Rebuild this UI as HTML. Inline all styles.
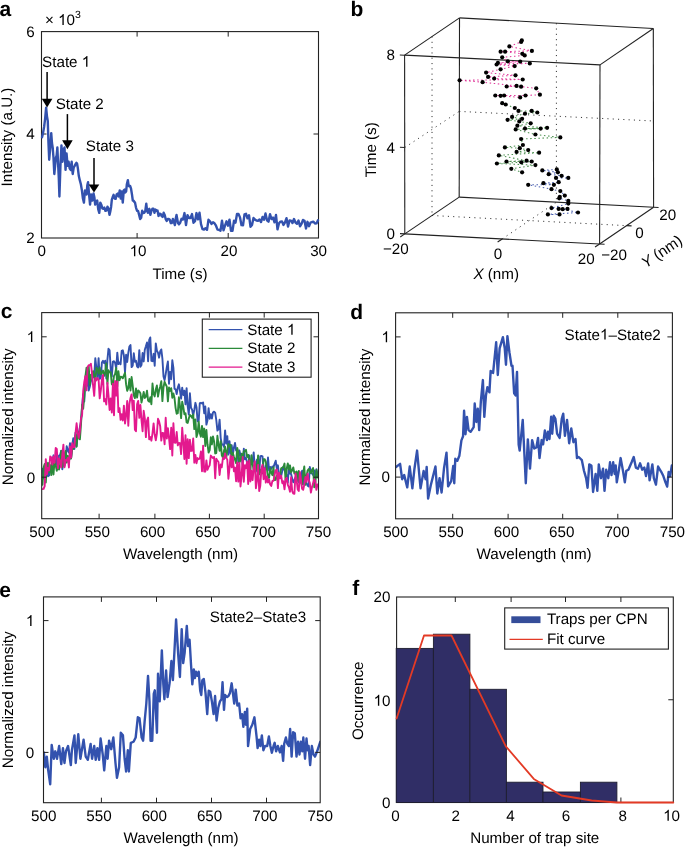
<!DOCTYPE html>
<html><head><meta charset="utf-8"><style>
html,body{margin:0;padding:0;background:#fff;}
svg{display:block;font-family:"Liberation Sans",sans-serif;text-rendering:geometricPrecision;will-change:transform;}
</style></head><body>
<svg width="685" height="847" viewBox="0 0 685 847">
<rect width="685" height="847" fill="#fff"/>
<text x="-0.60" y="16.00" font-size="21" text-anchor="start" font-weight="bold" >a</text>
<rect x="41.50" y="31.60" width="277.00" height="206.40" fill="none" stroke="#222" stroke-width="1.1"/>
<line x1="137.10" y1="238.00" x2="137.10" y2="233.00" stroke="#222" stroke-width="1" />
<line x1="137.10" y1="31.60" x2="137.10" y2="36.60" stroke="#222" stroke-width="1" />
<line x1="228.20" y1="238.00" x2="228.20" y2="233.00" stroke="#222" stroke-width="1" />
<line x1="228.20" y1="31.60" x2="228.20" y2="36.60" stroke="#222" stroke-width="1" />
<line x1="41.50" y1="134.00" x2="46.50" y2="134.00" stroke="#222" stroke-width="1" />
<line x1="318.50" y1="134.00" x2="313.50" y2="134.00" stroke="#222" stroke-width="1" />
<text x="41.80" y="256.20" font-size="15.2" text-anchor="middle" font-weight="normal" >0</text>
<text x="138.10" y="256.20" font-size="15.2" text-anchor="middle" font-weight="normal" >10</text>
<text x="229.00" y="256.20" font-size="15.2" text-anchor="middle" font-weight="normal" >20</text>
<text x="318.60" y="256.20" font-size="15.2" text-anchor="middle" font-weight="normal" >30</text>
<text x="34.60" y="36.55" font-size="15.2" text-anchor="end" font-weight="normal" >6</text>
<text x="34.60" y="139.05" font-size="15.2" text-anchor="end" font-weight="normal" >4</text>
<text x="34.60" y="242.55" font-size="15.2" text-anchor="end" font-weight="normal" >2</text>
<text x="45.00" y="25.00" font-size="15.2" text-anchor="start" font-weight="normal" >× 10<tspan dy="-7" font-size="10.5">3</tspan></text>
<text x="180.00" y="279.00" font-size="15.2" text-anchor="middle" font-weight="normal" >Time (s)</text>
<text x="0.00" y="0.00" font-size="15.2" text-anchor="middle" font-weight="normal" transform="translate(12.4,137) rotate(-90)">Intensity (a.U.)</text>
<polyline points="42.04,137.22 43.07,132.90 44.09,127.01 45.11,118.85 46.13,107.59 46.95,116.12 47.77,120.87 48.48,143.12 49.20,159.71 50.22,147.96 51.24,133.14 51.96,142.99 52.67,147.44 53.49,157.71 54.31,174.01 55.12,165.62 55.94,157.66 56.66,155.39 57.37,147.44 58.09,163.72 58.80,178.10 59.42,196.49 60.44,165.84 61.46,145.40 62.48,161.75 63.50,149.49 64.52,147.44 65.55,169.92 66.57,153.57 67.59,165.84 68.61,161.75 69.63,168.40 70.66,169.92 71.68,161.75 72.70,174.01 73.72,167.45 74.74,165.84 75.56,164.11 76.38,162.77 77.09,163.70 77.81,167.88 78.83,176.06 79.85,180.42 80.87,184.23 81.90,190.36 82.92,198.54 83.94,202.62 84.96,190.36 85.78,192.88 86.60,194.45 87.31,185.20 88.03,182.19 89.05,194.45 90.07,204.67 91.09,194.45 92.32,200.58 93.55,193.43 94.36,197.23 95.18,204.67 96.20,201.21 97.22,200.58 98.25,209.38 99.27,212.84 100.29,202.62 101.31,204.67 102.33,208.41 103.36,208.76 104.38,207.60 105.40,210.80 106.42,210.66 107.44,206.71 108.47,208.49 109.49,214.89 110.30,211.55 111.12,206.71 111.84,199.72 112.55,197.51 113.57,194.84 114.60,198.54 115.62,198.87 116.64,194.45 117.66,193.61 118.68,196.49 119.71,190.36 120.73,198.54 121.75,191.38 122.77,202.62 123.79,190.36 124.61,189.56 125.43,192.41 126.14,191.41 126.86,184.23 127.88,180.14 128.60,185.59 129.31,186.27 130.13,185.95 130.95,188.32 131.97,194.45 132.79,200.47 133.60,200.58 134.32,201.85 135.03,202.62 136.06,207.85 137.08,210.80 138.10,210.95 139.12,214.89 140.14,218.97 141.16,217.71 142.19,210.80 143.21,213.04 144.23,212.84 145.25,211.23 146.27,203.65 147.09,210.76 147.91,212.84 148.62,209.51 149.34,208.76 150.36,214.89 151.38,210.93 152.41,208.76 153.43,208.66 154.45,212.84 155.47,209.55 156.49,210.80 157.51,210.57 158.54,215.91 159.56,213.62 160.58,213.86 161.60,216.06 162.62,216.93 163.65,212.73 164.67,214.89 165.69,219.09 166.71,221.02 167.73,218.96 168.76,218.97 169.78,219.80 170.80,223.06 171.82,223.06 172.84,218.97 173.86,221.92 174.89,225.11 175.70,218.82 176.52,214.89 177.24,218.85 177.95,223.06 178.97,224.37 180.00,223.06 181.50,218.83 183.00,219.55 184.50,213.09 186.00,225.05 187.50,215.11 189.00,217.94 190.50,218.02 192.00,214.11 193.50,222.72 195.00,221.20 196.50,213.07 198.00,219.39 199.50,212.67 201.00,224.20 202.50,229.09 204.00,229.62 205.50,228.19 207.00,229.82 208.50,219.78 210.00,221.24 211.50,223.88 213.00,222.28 214.50,223.31 216.00,225.72 217.50,229.57 219.00,229.88 220.50,230.64 222.00,220.73 223.50,230.36 225.00,225.63 226.50,221.35 228.00,225.72 229.50,219.62 231.00,230.75 232.50,230.90 234.00,220.71 235.50,222.63 237.00,213.93 238.50,213.94 240.00,217.37 241.50,225.17 243.00,225.38 244.50,214.32 246.00,213.78 247.50,218.30 249.00,215.27 250.50,226.76 252.00,224.90 253.50,217.93 255.00,219.64 256.50,220.55 258.00,220.84 259.50,219.48 261.00,222.04 262.50,217.01 264.00,219.65 265.50,213.54 267.00,220.36 268.50,221.72 270.00,214.12 271.50,219.00 273.00,217.63 274.50,222.26 276.00,215.01 277.50,229.36 279.00,223.28 280.50,221.64 282.00,221.55 283.50,224.95 285.00,222.33 286.50,218.12 288.00,226.62 289.50,220.47 291.00,220.66 292.50,223.02 294.00,219.02 295.50,222.51 297.00,223.76 298.50,220.53 300.00,226.30 301.50,223.91 303.00,219.95 304.50,220.79 306.00,228.56 307.50,221.84 309.00,226.20 310.50,222.64 312.00,222.00 313.50,221.75 315.00,223.50 316.50,223.41 318.00,220.37" fill="none" stroke="#3352ae" stroke-width="2.4" stroke-linejoin="round" stroke-linecap="round" />
<line x1="47.10" y1="72.10" x2="47.10" y2="99.70" stroke="#000" stroke-width="1.5" />
<polygon points="41.80,98.70 52.40,98.70 47.10,107.60" fill="#000"/>
<line x1="67.40" y1="114.10" x2="67.40" y2="141.30" stroke="#000" stroke-width="1.5" />
<polygon points="62.10,140.30 72.70,140.30 67.40,149.20" fill="#000"/>
<line x1="94.00" y1="158.00" x2="94.00" y2="185.60" stroke="#000" stroke-width="1.5" />
<polygon points="88.70,184.60 99.30,184.60 94.00,192.60" fill="#000"/>
<text x="42.10" y="66.80" font-size="15.2" text-anchor="start" font-weight="normal" >State 1</text>
<text x="55.70" y="108.80" font-size="15.2" text-anchor="start" font-weight="normal" >State 2</text>
<text x="85.80" y="151.00" font-size="15.2" text-anchor="start" font-weight="normal" >State 3</text>
<text x="350.44" y="16.00" font-size="21" text-anchor="start" font-weight="bold" >b</text>
<line x1="432.05" y1="36.50" x2="432.00" y2="215.50" stroke="#333" stroke-width="1.0" stroke-dasharray="1.1 4.2"/>
<line x1="404.80" y1="147.50" x2="459.20" y2="111.40" stroke="#333" stroke-width="1.0" stroke-dasharray="1.1 4.2"/>
<line x1="556.40" y1="23.20" x2="556.40" y2="202.20" stroke="#333" stroke-width="1.0" stroke-dasharray="1.1 4.2"/>
<line x1="459.20" y1="111.40" x2="653.40" y2="121.00" stroke="#333" stroke-width="1.0" stroke-dasharray="1.1 4.2"/>
<line x1="432.00" y1="215.50" x2="626.60" y2="225.65" stroke="#333" stroke-width="1.0" stroke-dasharray="1.1 4.2"/>
<line x1="502.20" y1="238.95" x2="556.40" y2="202.20" stroke="#333" stroke-width="1.0" stroke-dasharray="1.1 4.2"/>
<line x1="404.60" y1="55.10" x2="404.80" y2="233.90" stroke="#222" stroke-width="1.1" />
<line x1="404.60" y1="55.10" x2="600.00" y2="64.90" stroke="#222" stroke-width="1.1" />
<line x1="404.60" y1="55.10" x2="459.50" y2="17.90" stroke="#222" stroke-width="1.1" />
<line x1="459.50" y1="17.90" x2="653.30" y2="28.50" stroke="#222" stroke-width="1.1" />
<line x1="600.00" y1="64.90" x2="653.30" y2="28.50" stroke="#222" stroke-width="1.1" />
<line x1="600.00" y1="64.90" x2="599.60" y2="244.00" stroke="#222" stroke-width="1.1" />
<line x1="459.50" y1="17.90" x2="459.20" y2="197.10" stroke="#222" stroke-width="1.1" />
<line x1="653.30" y1="28.50" x2="653.60" y2="207.30" stroke="#222" stroke-width="1.1" />
<line x1="404.80" y1="233.90" x2="599.60" y2="244.00" stroke="#222" stroke-width="1.1" />
<line x1="404.80" y1="233.90" x2="459.20" y2="197.10" stroke="#222" stroke-width="1.1" />
<line x1="459.20" y1="197.10" x2="653.60" y2="207.30" stroke="#222" stroke-width="1.1" />
<line x1="599.60" y1="244.00" x2="653.60" y2="207.30" stroke="#222" stroke-width="1.1" />
<line x1="404.60" y1="55.20" x2="399.80" y2="54.95" stroke="#222" stroke-width="1.1" />
<line x1="404.70" y1="147.50" x2="399.90" y2="147.25" stroke="#222" stroke-width="1.1" />
<line x1="404.80" y1="233.90" x2="400.00" y2="233.65" stroke="#222" stroke-width="1.1" />
<line x1="404.80" y1="233.90" x2="400.24" y2="236.98" stroke="#222" stroke-width="1.1" />
<line x1="502.20" y1="238.95" x2="497.64" y2="242.03" stroke="#222" stroke-width="1.1" />
<line x1="599.60" y1="244.00" x2="595.03" y2="247.08" stroke="#222" stroke-width="1.1" />
<line x1="599.60" y1="244.00" x2="604.60" y2="244.25" stroke="#222" stroke-width="1.1" />
<line x1="626.60" y1="225.65" x2="631.60" y2="225.90" stroke="#222" stroke-width="1.1" />
<line x1="653.60" y1="207.30" x2="658.60" y2="207.55" stroke="#222" stroke-width="1.1" />
<text x="395.00" y="60.45" font-size="15.2" text-anchor="end" font-weight="normal" >8</text>
<text x="395.00" y="153.25" font-size="15.2" text-anchor="end" font-weight="normal" >4</text>
<text x="395.00" y="239.25" font-size="15.2" text-anchor="end" font-weight="normal" >0</text>
<text x="395.80" y="253.80" font-size="15.2" text-anchor="middle" font-weight="normal" >−20</text>
<text x="497.90" y="259.40" font-size="15.2" text-anchor="middle" font-weight="normal" >0</text>
<text x="586.20" y="264.30" font-size="15.2" text-anchor="middle" font-weight="normal" >20</text>
<text x="614.10" y="259.80" font-size="15.2" text-anchor="middle" font-weight="normal" >−20</text>
<text x="639.40" y="238.40" font-size="15.2" text-anchor="middle" font-weight="normal" >0</text>
<text x="667.80" y="220.00" font-size="15.2" text-anchor="middle" font-weight="normal" >20</text>
<text x="496.20" y="279.20" font-size="15.2" text-anchor="middle" font-weight="normal" ><tspan font-style="italic">X</tspan> (nm)</text>
<text x="0.00" y="0.00" font-size="15.2" text-anchor="middle" font-weight="normal" transform="translate(664.5,255.8) rotate(-34.2)"><tspan font-style="italic">Y</tspan> (nm)</text>
<text x="0.00" y="0.00" font-size="15.2" text-anchor="middle" font-weight="normal" transform="translate(376.4,149.8) rotate(-90)">Time (s)</text>
<polyline points="521.8,40.4 521.1,42.0 509.4,46.4 531.9,50.9 500.6,51.7 505.1,51.7 522.3,53.8 524.7,55.4 502.2,57.3 507.8,61.3 520.2,61.6 497.9,62.9 529.8,63.4 496.6,64.5 514.7,66.1 500.6,69.3 486.1,72.6 515.5,75.3 488.1,76.9 494.2,78.5 522.7,79.5 459.6,80.3 482.6,82.2 516.6,85.9 506.7,86.5 521.1,86.7 536.2,88.3 539.9,94.7 525.5,95.5 495.3,95.5 504.1,95.5 500.6,95.8 520.2,97.4" fill="none" stroke="#e0389a" stroke-width="1.05" stroke-dasharray="1.5 2.6"/>
<polyline points="502.2,103.2 505.7,104.5 514.8,108.0 518.5,110.9 531.7,110.9 537.3,112.5 525.0,113.7 512.1,116.9 522.1,118.8 507.6,119.8 519.3,121.4 530.7,123.3 517.4,125.7 547.1,127.8 525.0,128.6 540.7,128.6 515.7,129.4 535.4,134.5 560.3,137.4 521.1,139.0 522.9,145.0 504.9,147.4 519.8,148.2 528.2,150.1 516.6,151.9 539.1,152.7 498.8,155.4 526.6,160.7 506.5,161.5 531.7,161.5 521.4,162.3 496.9,163.5 535.4,165.1 511.3,168.8 522.1,172.3" fill="none" stroke="#4c9150" stroke-width="1.05" stroke-dasharray="1.5 2.6"/>
<polyline points="556.8,169.4 542.3,170.4 557.9,172.3 548.7,174.2 561.6,175.8 568.3,177.9 556.0,177.9 558.7,182.2 543.4,183.2 553.9,184.8 528.2,184.8 551.5,189.2 560.3,191.1 564.8,195.6 559.8,196.9 559.2,198.3 568.3,200.9 568.3,203.6 551.5,208.1 558.7,208.9 567.5,208.9 562.7,209.2 578.0,212.5 547.9,214.4 559.5,214.4" fill="none" stroke="#4a5fb0" stroke-width="1.05" stroke-dasharray="1.5 2.6"/>
<circle cx="521.8" cy="40.4" r="2.1" fill="#000"/>
<circle cx="521.1" cy="42.0" r="2.1" fill="#000"/>
<circle cx="509.4" cy="46.4" r="2.1" fill="#000"/>
<circle cx="500.6" cy="51.7" r="2.1" fill="#000"/>
<circle cx="505.1" cy="51.7" r="2.1" fill="#000"/>
<circle cx="531.9" cy="50.9" r="2.1" fill="#000"/>
<circle cx="522.3" cy="53.8" r="2.1" fill="#000"/>
<circle cx="524.7" cy="55.4" r="2.1" fill="#000"/>
<circle cx="502.2" cy="57.3" r="2.1" fill="#000"/>
<circle cx="497.9" cy="62.9" r="2.1" fill="#000"/>
<circle cx="496.6" cy="64.5" r="2.1" fill="#000"/>
<circle cx="507.8" cy="61.3" r="2.1" fill="#000"/>
<circle cx="520.2" cy="61.6" r="2.1" fill="#000"/>
<circle cx="529.8" cy="63.4" r="2.1" fill="#000"/>
<circle cx="514.7" cy="66.1" r="2.1" fill="#000"/>
<circle cx="500.6" cy="69.3" r="2.1" fill="#000"/>
<circle cx="486.1" cy="72.6" r="2.1" fill="#000"/>
<circle cx="488.1" cy="76.9" r="2.1" fill="#000"/>
<circle cx="494.2" cy="78.5" r="2.1" fill="#000"/>
<circle cx="482.6" cy="82.2" r="2.1" fill="#000"/>
<circle cx="459.6" cy="80.3" r="2.1" fill="#000"/>
<circle cx="515.5" cy="75.3" r="2.1" fill="#000"/>
<circle cx="522.7" cy="79.5" r="2.1" fill="#000"/>
<circle cx="506.7" cy="86.5" r="2.1" fill="#000"/>
<circle cx="516.6" cy="85.9" r="2.1" fill="#000"/>
<circle cx="521.1" cy="86.7" r="2.1" fill="#000"/>
<circle cx="536.2" cy="88.3" r="2.1" fill="#000"/>
<circle cx="539.9" cy="94.7" r="2.1" fill="#000"/>
<circle cx="525.5" cy="95.5" r="2.1" fill="#000"/>
<circle cx="520.2" cy="97.4" r="2.1" fill="#000"/>
<circle cx="495.3" cy="95.5" r="2.1" fill="#000"/>
<circle cx="500.6" cy="95.8" r="2.1" fill="#000"/>
<circle cx="504.1" cy="95.5" r="2.1" fill="#000"/>
<circle cx="502.2" cy="103.2" r="2.1" fill="#000"/>
<circle cx="505.7" cy="104.5" r="2.1" fill="#000"/>
<circle cx="514.8" cy="108.0" r="2.1" fill="#000"/>
<circle cx="518.5" cy="110.9" r="2.1" fill="#000"/>
<circle cx="525.0" cy="113.7" r="2.1" fill="#000"/>
<circle cx="531.7" cy="110.9" r="2.1" fill="#000"/>
<circle cx="537.3" cy="112.5" r="2.1" fill="#000"/>
<circle cx="512.1" cy="116.9" r="2.1" fill="#000"/>
<circle cx="507.6" cy="119.8" r="2.1" fill="#000"/>
<circle cx="522.1" cy="118.8" r="2.1" fill="#000"/>
<circle cx="519.3" cy="121.4" r="2.1" fill="#000"/>
<circle cx="530.7" cy="123.3" r="2.1" fill="#000"/>
<circle cx="517.4" cy="125.7" r="2.1" fill="#000"/>
<circle cx="525.0" cy="128.6" r="2.1" fill="#000"/>
<circle cx="515.7" cy="129.4" r="2.1" fill="#000"/>
<circle cx="540.7" cy="128.6" r="2.1" fill="#000"/>
<circle cx="547.1" cy="127.8" r="2.1" fill="#000"/>
<circle cx="535.4" cy="134.5" r="2.1" fill="#000"/>
<circle cx="560.3" cy="137.4" r="2.1" fill="#000"/>
<circle cx="521.1" cy="139.0" r="2.1" fill="#000"/>
<circle cx="522.9" cy="145.0" r="2.1" fill="#000"/>
<circle cx="504.9" cy="147.4" r="2.1" fill="#000"/>
<circle cx="519.8" cy="148.2" r="2.1" fill="#000"/>
<circle cx="528.2" cy="150.1" r="2.1" fill="#000"/>
<circle cx="516.6" cy="151.9" r="2.1" fill="#000"/>
<circle cx="539.1" cy="152.7" r="2.1" fill="#000"/>
<circle cx="498.8" cy="155.4" r="2.1" fill="#000"/>
<circle cx="506.5" cy="161.5" r="2.1" fill="#000"/>
<circle cx="496.9" cy="163.5" r="2.1" fill="#000"/>
<circle cx="521.4" cy="162.3" r="2.1" fill="#000"/>
<circle cx="526.6" cy="160.7" r="2.1" fill="#000"/>
<circle cx="531.7" cy="161.5" r="2.1" fill="#000"/>
<circle cx="535.4" cy="165.1" r="2.1" fill="#000"/>
<circle cx="511.3" cy="168.8" r="2.1" fill="#000"/>
<circle cx="522.1" cy="172.3" r="2.1" fill="#000"/>
<circle cx="542.3" cy="170.4" r="2.1" fill="#000"/>
<circle cx="548.7" cy="174.2" r="2.1" fill="#000"/>
<circle cx="556.8" cy="169.4" r="2.1" fill="#000"/>
<circle cx="557.9" cy="172.3" r="2.1" fill="#000"/>
<circle cx="561.6" cy="175.8" r="2.1" fill="#000"/>
<circle cx="568.3" cy="177.9" r="2.1" fill="#000"/>
<circle cx="556.0" cy="177.9" r="2.1" fill="#000"/>
<circle cx="558.7" cy="182.2" r="2.1" fill="#000"/>
<circle cx="543.4" cy="183.2" r="2.1" fill="#000"/>
<circle cx="553.9" cy="184.8" r="2.1" fill="#000"/>
<circle cx="528.2" cy="184.8" r="2.1" fill="#000"/>
<circle cx="551.5" cy="189.2" r="2.1" fill="#000"/>
<circle cx="560.3" cy="191.1" r="2.1" fill="#000"/>
<circle cx="564.8" cy="195.6" r="2.1" fill="#000"/>
<circle cx="559.8" cy="196.9" r="2.1" fill="#000"/>
<circle cx="559.2" cy="198.3" r="2.1" fill="#000"/>
<circle cx="568.3" cy="200.9" r="2.1" fill="#000"/>
<circle cx="568.3" cy="203.6" r="2.1" fill="#000"/>
<circle cx="551.5" cy="208.1" r="2.1" fill="#000"/>
<circle cx="558.7" cy="208.9" r="2.1" fill="#000"/>
<circle cx="562.7" cy="209.2" r="2.1" fill="#000"/>
<circle cx="567.5" cy="208.9" r="2.1" fill="#000"/>
<circle cx="547.9" cy="214.4" r="2.1" fill="#000"/>
<circle cx="559.5" cy="214.4" r="2.1" fill="#000"/>
<circle cx="578.0" cy="212.5" r="2.1" fill="#000"/>
<text x="0.66" y="318.00" font-size="21" text-anchor="start" font-weight="bold" >c</text>
<clipPath id="clc"><rect x="41.7" y="312.6" width="276.8" height="206.10000000000002"/></clipPath>
<g clip-path="url(#clc)">
<polyline points="42.50,468.83 43.60,478.30 44.70,476.18 45.80,472.04 46.90,465.75 48.00,476.25 49.10,475.53 50.20,468.60 51.30,467.42 52.40,461.01 53.50,455.33 54.60,461.66 55.70,464.92 56.80,453.57 57.90,467.43 59.00,455.65 60.10,455.10 61.20,450.75 62.30,469.30 63.40,463.57 64.50,465.75 65.60,459.46 66.70,446.25 67.80,450.58 68.90,452.38 70.00,443.17 71.10,458.32 72.20,444.92 73.30,438.17 74.40,448.95 75.50,432.62 76.60,446.21 77.70,434.24 78.80,433.74 79.90,427.08 81.00,421.36 82.10,406.24 83.20,394.08 84.30,401.48 85.40,378.64 86.50,386.06 87.60,370.87 88.70,390.46 89.80,386.75 90.90,381.11 92.00,379.88 93.10,373.60 94.20,377.24 95.30,358.20 96.40,367.99 97.50,377.69 98.60,358.08 99.70,378.92 100.80,377.34 101.90,362.60 103.00,360.87 104.10,363.05 105.20,360.68 106.30,378.55 107.40,359.91 108.50,348.71 109.60,350.31 110.70,368.65 111.80,376.66 112.90,361.59 114.00,361.28 115.10,362.88 116.20,368.65 117.30,352.69 118.40,364.13 119.50,362.39 120.60,364.20 121.70,350.77 122.80,350.29 123.90,355.46 125.00,372.51 126.10,354.77 127.20,361.96 128.30,352.91 129.40,346.48 130.50,345.02 131.60,367.13 132.70,365.70 133.80,353.31 134.90,361.80 136.00,360.72 137.10,366.55 138.20,367.48 139.30,350.09 140.40,366.70 141.50,365.01 142.60,353.03 143.70,361.50 144.80,349.73 145.90,346.27 147.00,342.42 148.10,361.28 149.20,339.87 150.30,337.44 151.40,360.84 152.50,361.22 153.60,353.82 154.70,365.75 155.80,343.37 156.90,350.64 158.00,352.70 159.10,357.69 160.20,351.32 161.30,349.38 162.40,358.54 163.50,376.47 164.60,380.10 165.70,374.08 166.80,367.17 167.90,361.47 169.00,383.77 170.10,371.87 171.20,379.23 172.30,360.26 173.40,367.82 174.50,388.65 175.60,389.40 176.70,394.03 177.80,387.67 178.90,384.34 180.00,390.89 181.10,398.74 182.20,387.65 183.30,394.98 184.40,390.68 185.50,404.39 186.60,388.10 187.70,406.20 188.80,414.55 189.90,393.22 191.00,407.70 192.10,409.71 193.20,415.49 194.30,409.88 195.40,402.83 196.50,407.19 197.60,421.26 198.70,420.79 199.80,403.06 200.90,402.82 202.00,403.45 203.10,402.47 204.20,413.24 205.30,406.56 206.40,424.66 207.50,420.23 208.60,408.20 209.70,418.75 210.80,414.10 211.90,418.61 213.00,412.47 214.10,411.63 215.20,412.87 216.30,420.04 217.40,430.53 218.50,429.20 219.60,419.62 220.70,438.09 221.80,444.52 222.90,444.38 224.00,446.98 225.10,430.39 226.20,443.53 227.30,436.12 228.40,454.57 229.50,441.08 230.60,453.75 231.70,445.22 232.80,454.73 233.90,447.71 235.00,442.92 236.10,450.50 237.20,449.55 238.30,462.02 239.40,450.55 240.50,455.29 241.60,456.71 242.70,465.19 243.80,448.70 244.90,459.25 246.00,457.89 247.10,462.92 248.20,468.07 249.30,455.43 250.40,463.72 251.50,460.73 252.60,461.89 253.70,452.41 254.80,467.89 255.90,471.60 257.00,459.63 258.10,459.35 259.20,473.32 260.30,456.07 261.40,455.90 262.50,456.31 263.60,471.59 264.70,470.97 265.80,465.19 266.90,469.12 268.00,457.55 269.10,470.51 270.20,466.91 271.30,468.74 272.40,466.51 273.50,467.08 274.60,463.89 275.70,460.69 276.80,468.72 277.90,465.31 279.00,474.78 280.10,477.38 281.20,475.84 282.30,470.81 283.40,466.75 284.50,470.06 285.60,472.42 286.70,475.65 287.80,482.60 288.90,465.38 290.00,473.59 291.10,473.99 292.20,478.65 293.30,482.27 294.40,480.21 295.50,477.31 296.60,480.10 297.70,478.45 298.80,482.42 299.90,479.37 301.00,479.21 302.10,470.61 303.20,484.19 304.30,473.73 305.40,478.46 306.50,482.82 307.60,485.75 308.70,486.42 309.80,466.92 310.90,473.20 312.00,473.33 313.10,475.08 314.20,470.32 315.30,478.63 316.40,469.31 317.50,473.93" fill="none" stroke="#3352ae" stroke-width="1.9" stroke-linejoin="round" stroke-linecap="round" />
<polyline points="42.50,484.70 43.60,467.31 44.70,463.95 45.80,482.43 46.90,465.11 48.00,462.81 49.10,472.40 50.20,465.26 51.30,475.11 52.40,460.93 53.50,474.46 54.60,460.63 55.70,465.24 56.80,470.83 57.90,465.26 59.00,469.48 60.10,464.61 61.20,450.87 62.30,466.98 63.40,460.59 64.50,454.46 65.60,450.95 66.70,462.57 67.80,455.66 68.90,461.19 70.00,456.34 71.10,458.51 72.20,448.88 73.30,449.04 74.40,444.85 75.50,435.29 76.60,446.78 77.70,431.42 78.80,438.32 79.90,439.32 81.00,424.35 82.10,404.64 83.20,408.77 84.30,396.08 85.40,376.27 86.50,367.75 87.60,377.63 88.70,365.91 89.80,384.82 90.90,374.87 92.00,374.38 93.10,371.27 94.20,376.08 95.30,381.16 96.40,367.76 97.50,369.22 98.60,373.82 99.70,367.54 100.80,374.10 101.90,372.95 103.00,370.54 104.10,375.81 105.20,372.70 106.30,363.46 107.40,383.88 108.50,370.23 109.60,372.34 110.70,372.14 111.80,384.17 112.90,385.11 114.00,375.86 115.10,373.88 116.20,367.96 117.30,386.31 118.40,371.15 119.50,380.18 120.60,376.60 121.70,376.91 122.80,378.32 123.90,375.44 125.00,372.81 126.10,384.42 127.20,390.79 128.30,388.16 129.40,379.00 130.50,390.47 131.60,377.00 132.70,385.53 133.80,395.35 134.90,398.04 136.00,388.55 137.10,397.66 138.20,390.43 139.30,391.41 140.40,393.17 141.50,402.54 142.60,397.51 143.70,391.98 144.80,398.00 145.90,396.57 147.00,390.63 148.10,400.52 149.20,401.73 150.30,397.28 151.40,404.27 152.50,383.57 153.60,393.80 154.70,396.39 155.80,389.56 156.90,385.47 158.00,396.56 159.10,390.52 160.20,386.52 161.30,381.15 162.40,401.14 163.50,387.25 164.60,381.73 165.70,384.56 166.80,386.67 167.90,401.37 169.00,387.55 170.10,390.91 171.20,388.23 172.30,397.75 173.40,393.48 174.50,397.98 175.60,408.08 176.70,413.76 177.80,413.26 178.90,397.25 180.00,406.22 181.10,418.09 182.20,401.63 183.30,406.80 184.40,414.31 185.50,413.14 186.60,422.43 187.70,422.93 188.80,418.55 189.90,415.01 191.00,415.80 192.10,417.79 193.20,414.56 194.30,429.06 195.40,419.38 196.50,436.98 197.60,433.12 198.70,421.66 199.80,432.88 200.90,436.69 202.00,425.84 203.10,437.12 204.20,428.57 205.30,446.02 206.40,429.84 207.50,444.24 208.60,452.60 209.70,450.13 210.80,437.23 211.90,444.44 213.00,436.34 214.10,441.38 215.20,453.44 216.30,453.02 217.40,435.81 218.50,444.56 219.60,450.87 220.70,441.11 221.80,455.29 222.90,457.66 224.00,450.53 225.10,446.75 226.20,457.84 227.30,450.84 228.40,444.08 229.50,446.44 230.60,444.89 231.70,458.87 232.80,452.68 233.90,456.80 235.00,459.60 236.10,463.11 237.20,447.83 238.30,452.52 239.40,462.27 240.50,460.55 241.60,453.75 242.70,459.83 243.80,451.32 244.90,451.35 246.00,449.83 247.10,457.11 248.20,454.94 249.30,461.27 250.40,471.01 251.50,455.27 252.60,463.83 253.70,470.43 254.80,465.57 255.90,464.61 257.00,469.88 258.10,455.43 259.20,474.42 260.30,469.65 261.40,472.51 262.50,473.35 263.60,459.28 264.70,459.10 265.80,461.80 266.90,468.79 268.00,477.92 269.10,477.81 270.20,468.27 271.30,472.66 272.40,475.19 273.50,467.23 274.60,480.17 275.70,479.78 276.80,475.66 277.90,479.33 279.00,477.50 280.10,474.71 281.20,468.28 282.30,467.66 283.40,466.98 284.50,463.54 285.60,481.10 286.70,468.73 287.80,463.42 288.90,469.45 290.00,465.37 291.10,472.39 292.20,470.31 293.30,467.36 294.40,473.57 295.50,472.51 296.60,471.48 297.70,480.84 298.80,470.90 299.90,475.77 301.00,482.68 302.10,484.49 303.20,472.98 304.30,466.48 305.40,484.86 306.50,476.32 307.60,470.57 308.70,468.96 309.80,471.36 310.90,472.97 312.00,469.72 313.10,468.10 314.20,487.19 315.30,483.89 316.40,469.94 317.50,477.47" fill="none" stroke="#2b8a3a" stroke-width="1.9" stroke-linejoin="round" stroke-linecap="round" />
<polyline points="42.50,489.13 43.60,488.86 44.70,486.04 45.80,459.13 46.90,474.37 48.00,467.96 49.10,470.34 50.20,456.52 51.30,457.46 52.40,464.52 53.50,456.34 54.60,462.80 55.70,448.01 56.80,448.93 57.90,468.27 59.00,458.48 60.10,460.85 61.20,467.39 62.30,454.84 63.40,444.64 64.50,467.31 65.60,459.99 66.70,460.62 67.80,457.87 68.90,467.49 70.00,446.47 71.10,457.60 72.20,443.30 73.30,447.06 74.40,447.14 75.50,433.31 76.60,423.24 77.70,432.92 78.80,437.97 79.90,431.15 81.00,417.99 82.10,415.06 83.20,391.16 84.30,381.88 85.40,376.29 86.50,390.34 87.60,367.50 88.70,365.14 89.80,365.28 90.90,363.75 92.00,373.47 93.10,385.59 94.20,395.84 95.30,378.05 96.40,380.35 97.50,378.09 98.60,379.53 99.70,398.32 100.80,390.37 101.90,380.03 103.00,374.98 104.10,401.39 105.20,399.18 106.30,404.49 107.40,382.75 108.50,395.14 109.60,410.02 110.70,398.33 111.80,412.50 112.90,383.71 114.00,415.19 115.10,381.05 116.20,395.53 117.30,381.39 118.40,412.05 119.50,408.19 120.60,419.86 121.70,414.23 122.80,420.48 123.90,405.68 125.00,423.55 126.10,415.38 127.20,400.99 128.30,425.78 129.40,403.99 130.50,397.93 131.60,394.38 132.70,410.12 133.80,400.81 134.90,429.73 136.00,431.28 137.10,404.28 138.20,400.86 139.30,417.87 140.40,405.06 141.50,420.12 142.60,431.20 143.70,410.77 144.80,418.03 145.90,437.08 147.00,420.59 148.10,417.56 149.20,439.29 150.30,437.06 151.40,440.67 152.50,433.30 153.60,423.36 154.70,434.53 155.80,440.24 156.90,433.52 158.00,418.79 159.10,421.47 160.20,426.33 161.30,440.60 162.40,432.96 163.50,433.20 164.60,444.22 165.70,417.73 166.80,438.55 167.90,428.15 169.00,437.72 170.10,449.16 171.20,427.81 172.30,455.48 173.40,423.27 174.50,442.59 175.60,442.78 176.70,432.07 177.80,445.41 178.90,442.93 180.00,443.08 181.10,454.08 182.20,427.72 183.30,442.69 184.40,459.00 185.50,435.32 186.60,463.68 187.70,439.24 188.80,458.17 189.90,439.65 191.00,450.93 192.10,450.70 193.20,438.54 194.30,462.72 195.40,454.86 196.50,463.28 197.60,458.06 198.70,459.18 199.80,458.53 200.90,451.55 202.00,471.26 203.10,445.75 204.20,471.51 205.30,471.57 206.40,460.35 207.50,469.77 208.60,466.94 209.70,465.23 210.80,455.57 211.90,456.80 213.00,458.08 214.10,456.90 215.20,478.27 216.30,458.81 217.40,460.62 218.50,461.98 219.60,475.01 220.70,464.50 221.80,467.26 222.90,458.05 224.00,459.10 225.10,453.38 226.20,457.81 227.30,459.63 228.40,478.79 229.50,467.93 230.60,455.70 231.70,467.29 232.80,456.67 233.90,471.23 235.00,467.58 236.10,481.21 237.20,462.35 238.30,481.60 239.40,462.61 240.50,486.44 241.60,475.61 242.70,456.99 243.80,481.77 244.90,465.08 246.00,468.16 247.10,461.58 248.20,484.00 249.30,460.41 250.40,481.45 251.50,470.77 252.60,480.07 253.70,467.94 254.80,461.29 255.90,488.30 257.00,480.19 258.10,464.90 259.20,490.93 260.30,485.81 261.40,468.53 262.50,464.84 263.60,479.27 264.70,468.17 265.80,482.63 266.90,476.54 268.00,482.53 269.10,479.42 270.20,484.47 271.30,485.92 272.40,480.90 273.50,480.85 274.60,474.73 275.70,470.33 276.80,469.56 277.90,488.13 279.00,472.74 280.10,478.25 281.20,475.79 282.30,483.23 283.40,481.33 284.50,489.32 285.60,479.34 286.70,477.73 287.80,484.85 288.90,487.27 290.00,491.77 291.10,477.22 292.20,491.18 293.30,493.63 294.40,493.83 295.50,473.52 296.60,479.72 297.70,489.34 298.80,490.88 299.90,472.06 301.00,480.76 302.10,488.83 303.20,489.82 304.30,484.64 305.40,477.02 306.50,481.90 307.60,473.72 308.70,480.06 309.80,482.91 310.90,492.58 312.00,487.14 313.10,483.12 314.20,479.25 315.30,481.08 316.40,489.79 317.50,484.55" fill="none" stroke="#e3198e" stroke-width="1.9" stroke-linejoin="round" stroke-linecap="round" />
</g>
<rect x="41.70" y="312.60" width="276.80" height="206.10" fill="none" stroke="#222" stroke-width="1.1"/>
<line x1="99.10" y1="518.70" x2="99.10" y2="513.70" stroke="#222" stroke-width="1" />
<line x1="99.10" y1="312.60" x2="99.10" y2="317.60" stroke="#222" stroke-width="1" />
<line x1="154.90" y1="518.70" x2="154.90" y2="513.70" stroke="#222" stroke-width="1" />
<line x1="154.90" y1="312.60" x2="154.90" y2="317.60" stroke="#222" stroke-width="1" />
<line x1="209.40" y1="518.70" x2="209.40" y2="513.70" stroke="#222" stroke-width="1" />
<line x1="209.40" y1="312.60" x2="209.40" y2="317.60" stroke="#222" stroke-width="1" />
<line x1="264.20" y1="518.70" x2="264.20" y2="513.70" stroke="#222" stroke-width="1" />
<line x1="264.20" y1="312.60" x2="264.20" y2="317.60" stroke="#222" stroke-width="1" />
<line x1="41.70" y1="336.80" x2="46.70" y2="336.80" stroke="#222" stroke-width="1" />
<line x1="318.50" y1="336.80" x2="313.50" y2="336.80" stroke="#222" stroke-width="1" />
<line x1="41.70" y1="477.20" x2="46.70" y2="477.20" stroke="#222" stroke-width="1" />
<line x1="318.50" y1="477.20" x2="313.50" y2="477.20" stroke="#222" stroke-width="1" />
<text x="42.00" y="536.80" font-size="15.2" text-anchor="middle" font-weight="normal" >500</text>
<text x="97.30" y="536.80" font-size="15.2" text-anchor="middle" font-weight="normal" >550</text>
<text x="152.60" y="536.80" font-size="15.2" text-anchor="middle" font-weight="normal" >600</text>
<text x="207.90" y="536.80" font-size="15.2" text-anchor="middle" font-weight="normal" >650</text>
<text x="263.20" y="536.80" font-size="15.2" text-anchor="middle" font-weight="normal" >700</text>
<text x="318.50" y="536.80" font-size="15.2" text-anchor="middle" font-weight="normal" >750</text>
<text x="35.10" y="342.10" font-size="15.2" text-anchor="end" font-weight="normal" >1</text>
<text x="35.10" y="482.50" font-size="15.2" text-anchor="end" font-weight="normal" >0</text>
<text x="180.60" y="559.20" font-size="15.2" text-anchor="middle" font-weight="normal" >Wavelength (nm)</text>
<text x="0.00" y="0.00" font-size="15.2" text-anchor="middle" font-weight="normal" transform="translate(12.9,416.8) rotate(-90)">Normalized intensity</text>
<rect x="202.3" y="319.1" width="108.8" height="58.1" fill="#fff" stroke="#222" stroke-width="1.1"/>
<line x1="208.70" y1="329.70" x2="242.40" y2="329.70" stroke="#3352ae" stroke-width="1.2" />
<text x="247.30" y="334.70" font-size="15.2" text-anchor="start" font-weight="normal" >State 1</text>
<line x1="208.70" y1="348.30" x2="242.40" y2="348.30" stroke="#2b8a3a" stroke-width="1.2" />
<text x="247.30" y="353.30" font-size="15.2" text-anchor="start" font-weight="normal" >State 2</text>
<line x1="208.70" y1="367.10" x2="242.40" y2="367.10" stroke="#e3198e" stroke-width="1.2" />
<text x="247.30" y="372.10" font-size="15.2" text-anchor="start" font-weight="normal" >State 3</text>
<text x="350.16" y="318.50" font-size="21" text-anchor="start" font-weight="bold" >d</text>
<clipPath id="cld"><rect x="395.6" y="312.8" width="276.79999999999995" height="205.99999999999994"/></clipPath>
<g clip-path="url(#cld)">
<polyline points="396.02,466.93 400.11,463.86 402.15,479.19 404.20,475.11 407.26,487.37 409.71,466.52 412.37,488.39 414.42,468.97 417.07,450.58 420.55,488.39 423.61,471.02 425.66,479.19 426.68,466.93 428.11,498.61 430.77,485.32 432.81,477.15 435.47,466.52 437.31,493.50 439.55,478.17 441.60,492.48 444.05,467.95 446.50,452.62 448.14,486.35 451.20,481.24 453.25,465.91 454.27,483.28 455.29,458.76 457.33,460.80 459.38,455.69 461.42,440.36 463.06,436.27 464.08,410.73 465.51,434.23 466.94,416.86 468.57,430.14 470.62,431.78 473.68,427.08 474.71,403.57 476.34,421.97 477.77,408.68 479.20,430.14 480.84,401.53 482.88,380.07 484.31,416.86 485.95,395.40 487.38,387.22 489.42,392.33 490.65,370.87 493.10,372.92 496.16,342.26 497.80,374.96 499.64,348.39 502.91,337.15 504.75,348.39 505.97,364.74 507.41,336.13 509.45,352.48 511.49,365.77 512.51,365.77 514.15,393.36 515.58,395.40 517.01,371.90 518.65,444.45 519.67,450.58 522.73,419.92 525.80,483.28 527.84,439.34 530.00,468.65 532.12,440.08 534.23,448.54 536.35,447.49 538.04,437.96 539.53,458.07 541.64,440.08 543.12,444.31 544.82,430.55 546.93,440.08 547.99,431.61 549.48,439.02 551.17,416.79 552.23,433.73 553.71,415.73 555.40,418.91 557.10,433.73 559.64,437.96 561.75,418.91 563.23,413.62 564.93,435.84 567.04,419.97 569.16,443.25 571.28,428.43 573.40,442.19 575.51,439.02 576.99,458.07 578.69,457.01 581.86,460.19 583.98,470.77 586.10,478.18 587.58,487.71 589.27,464.42 591.39,465.48 593.08,491.94 595.62,473.95 597.32,490.88 598.80,464.42 600.91,478.18 603.03,468.65 604.51,490.88 606.21,469.71 608.32,478.18 610.02,462.30 611.50,475.00 613.19,462.30 614.67,473.95 615.73,465.48 616.79,482.41 618.91,469.71 620.60,458.07 623.14,471.83 624.83,482.41 626.32,470.77 628.43,469.71 631.61,462.30 633.73,457.01 635.84,467.60 637.96,468.65 640.08,463.36 642.19,469.71 644.31,467.60 646.00,476.06 648.12,463.36 649.60,480.30 652.35,464.42 653.84,478.18 655.95,484.53 658.07,466.54 661.24,471.83 663.36,476.06 665.48,482.41 667.17,486.65 668.65,471.83 670.14,476.06 671.83,465.48" fill="none" stroke="#3352ae" stroke-width="2.4" stroke-linejoin="round" stroke-linecap="round" />
</g>
<rect x="395.60" y="312.80" width="276.80" height="206.00" fill="none" stroke="#222" stroke-width="1.1"/>
<line x1="452.70" y1="518.80" x2="452.70" y2="513.80" stroke="#222" stroke-width="1" />
<line x1="452.70" y1="312.80" x2="452.70" y2="317.80" stroke="#222" stroke-width="1" />
<line x1="508.10" y1="518.80" x2="508.10" y2="513.80" stroke="#222" stroke-width="1" />
<line x1="508.10" y1="312.80" x2="508.10" y2="317.80" stroke="#222" stroke-width="1" />
<line x1="562.70" y1="518.80" x2="562.70" y2="513.80" stroke="#222" stroke-width="1" />
<line x1="562.70" y1="312.80" x2="562.70" y2="317.80" stroke="#222" stroke-width="1" />
<line x1="617.80" y1="518.80" x2="617.80" y2="513.80" stroke="#222" stroke-width="1" />
<line x1="617.80" y1="312.80" x2="617.80" y2="317.80" stroke="#222" stroke-width="1" />
<line x1="395.60" y1="336.90" x2="400.60" y2="336.90" stroke="#222" stroke-width="1" />
<line x1="672.40" y1="336.90" x2="667.40" y2="336.90" stroke="#222" stroke-width="1" />
<line x1="395.60" y1="477.10" x2="400.60" y2="477.10" stroke="#222" stroke-width="1" />
<line x1="672.40" y1="477.10" x2="667.40" y2="477.10" stroke="#222" stroke-width="1" />
<text x="395.80" y="537.00" font-size="15.2" text-anchor="middle" font-weight="normal" >500</text>
<text x="451.12" y="537.00" font-size="15.2" text-anchor="middle" font-weight="normal" >550</text>
<text x="506.44" y="537.00" font-size="15.2" text-anchor="middle" font-weight="normal" >600</text>
<text x="561.76" y="537.00" font-size="15.2" text-anchor="middle" font-weight="normal" >650</text>
<text x="617.08" y="537.00" font-size="15.2" text-anchor="middle" font-weight="normal" >700</text>
<text x="672.40" y="537.00" font-size="15.2" text-anchor="middle" font-weight="normal" >750</text>
<text x="389.90" y="342.20" font-size="15.2" text-anchor="end" font-weight="normal" >1</text>
<text x="389.90" y="482.40" font-size="15.2" text-anchor="end" font-weight="normal" >0</text>
<text x="534.10" y="559.30" font-size="15.2" text-anchor="middle" font-weight="normal" >Wavelength (nm)</text>
<text x="0.00" y="0.00" font-size="15.2" text-anchor="middle" font-weight="normal" transform="translate(369.6,417.0) rotate(-90)">Normalized intensity</text>
<text x="660.80" y="339.60" font-size="15.2" text-anchor="end" font-weight="normal" >State1–State2</text>
<text x="-0.84" y="597.00" font-size="21" text-anchor="start" font-weight="bold" >e</text>
<clipPath id="cle"><rect x="43.5" y="596.9" width="276.7" height="205.80000000000007"/></clipPath>
<g clip-path="url(#cle)">
<polyline points="43.83,752.37 45.32,767.25 46.80,756.62 48.08,769.37 50.21,784.25 51.69,744.93 53.82,758.75 55.31,751.31 57.01,758.75 59.14,746.00 61.26,764.06 62.96,748.12 64.45,763.00 65.94,751.31 68.07,746.00 70.83,765.12 71.89,750.25 74.45,735.37 75.72,763.00 78.27,734.31 80.40,758.75 83.59,739.62 85.72,756.62 87.84,759.81 90.61,743.87 92.09,758.75 94.22,746.00 95.71,759.81 97.41,748.12 99.11,759.81 100.60,738.56 102.73,754.50 104.21,770.43 106.34,746.00 107.62,758.75 109.10,740.68 111.23,749.18 113.36,737.50 115.48,763.00 116.97,777.87 119.10,767.25 120.80,732.82 122.93,735.37 124.63,758.75 126.12,771.50 127.82,750.25 128.88,771.50 130.79,742.81 133.56,741.75 135.68,737.50 137.81,717.31 139.51,718.37 141.64,737.50 143.13,740.68 144.61,721.56 146.32,703.50 148.02,675.87 149.50,701.37 150.57,740.68 152.27,740.68 153.76,693.94 154.82,690.32 156.95,732.82 158.01,673.75 159.71,701.37 161.84,650.37 163.33,684.37 164.39,699.25 166.09,670.56 167.58,697.12 169.70,682.25 171.41,661.00 172.89,680.12 174.38,652.50 176.08,619.56 178.21,654.62 179.91,676.94 181.70,629.12 183.19,663.12 184.68,652.50 186.80,625.94 188.08,646.12 189.57,639.75 191.06,665.25 192.33,684.37 193.82,669.50 194.88,678.00 195.95,671.62 197.44,675.87 198.71,671.62 200.20,690.75 201.26,695.00 202.33,680.12 203.81,679.06 205.52,692.87 207.22,714.12 208.71,690.75 210.19,691.81 211.89,701.37 213.60,714.12 215.08,696.06 216.57,720.50 218.27,707.75 219.97,701.37 221.46,699.25 222.53,682.25 224.01,709.87 225.08,695.00 226.78,697.12 228.48,696.06 229.97,692.87 231.67,683.31 233.16,695.00 234.22,703.50 235.71,689.69 237.41,705.62 239.11,703.50 240.60,718.37 242.09,714.12 243.36,726.87 244.85,712.00 245.92,724.75 247.19,708.81 248.04,746.00 250.17,729.00 252.29,724.75 254.42,717.31 256.55,736.43 257.61,748.12 259.10,739.62 260.37,746.00 261.86,735.37 263.35,750.25 265.05,746.00 267.18,746.00 268.88,736.43 270.37,746.00 271.86,752.80 273.56,746.00 274.62,742.81 276.11,751.31 277.81,746.00 279.94,752.37 281.64,746.00 283.13,760.87 284.19,743.87 285.89,737.50 287.38,743.87 288.87,746.00 290.14,729.00 291.63,756.62 293.12,732.18 294.82,733.25 296.52,756.62 298.01,741.75 299.50,754.50 300.77,741.75 302.26,751.31 303.33,737.50 305.03,758.75 306.51,738.56 307.58,750.25 308.64,746.00 310.13,765.12 311.83,746.00 313.53,754.50 315.02,756.62 317.15,751.31 319.27,744.93 320.34,741.75" fill="none" stroke="#3352ae" stroke-width="2.4" stroke-linejoin="round" stroke-linecap="round" />
</g>
<rect x="43.50" y="596.90" width="276.70" height="205.80" fill="none" stroke="#222" stroke-width="1.1"/>
<line x1="101.40" y1="802.70" x2="101.40" y2="797.70" stroke="#222" stroke-width="1" />
<line x1="101.40" y1="596.90" x2="101.40" y2="601.90" stroke="#222" stroke-width="1" />
<line x1="156.50" y1="802.70" x2="156.50" y2="797.70" stroke="#222" stroke-width="1" />
<line x1="156.50" y1="596.90" x2="156.50" y2="601.90" stroke="#222" stroke-width="1" />
<line x1="211.50" y1="802.70" x2="211.50" y2="797.70" stroke="#222" stroke-width="1" />
<line x1="211.50" y1="596.90" x2="211.50" y2="601.90" stroke="#222" stroke-width="1" />
<line x1="266.50" y1="802.70" x2="266.50" y2="797.70" stroke="#222" stroke-width="1" />
<line x1="266.50" y1="596.90" x2="266.50" y2="601.90" stroke="#222" stroke-width="1" />
<line x1="43.50" y1="620.60" x2="48.50" y2="620.60" stroke="#222" stroke-width="1" />
<line x1="320.20" y1="620.60" x2="315.20" y2="620.60" stroke="#222" stroke-width="1" />
<line x1="43.50" y1="752.40" x2="48.50" y2="752.40" stroke="#222" stroke-width="1" />
<line x1="320.20" y1="752.40" x2="315.20" y2="752.40" stroke="#222" stroke-width="1" />
<text x="43.70" y="820.80" font-size="15.2" text-anchor="middle" font-weight="normal" >500</text>
<text x="99.00" y="820.80" font-size="15.2" text-anchor="middle" font-weight="normal" >550</text>
<text x="154.30" y="820.80" font-size="15.2" text-anchor="middle" font-weight="normal" >600</text>
<text x="209.60" y="820.80" font-size="15.2" text-anchor="middle" font-weight="normal" >650</text>
<text x="264.90" y="820.80" font-size="15.2" text-anchor="middle" font-weight="normal" >700</text>
<text x="320.20" y="820.80" font-size="15.2" text-anchor="middle" font-weight="normal" >750</text>
<text x="34.30" y="625.90" font-size="15.2" text-anchor="end" font-weight="normal" >1</text>
<text x="34.30" y="757.80" font-size="15.2" text-anchor="end" font-weight="normal" >0</text>
<text x="181.10" y="843.30" font-size="15.2" text-anchor="middle" font-weight="normal" >Wavelength (nm)</text>
<text x="0.00" y="0.00" font-size="15.2" text-anchor="middle" font-weight="normal" transform="translate(12.8,699.8) rotate(-90)">Normalized intensity</text>
<text x="306.10" y="621.70" font-size="15.2" text-anchor="end" font-weight="normal" >State2–State3</text>
<text x="352.29" y="595.20" font-size="21" text-anchor="start" font-weight="bold" >f</text>
<rect x="396.60" y="597.00" width="276.70" height="205.50" fill="none" stroke="#222" stroke-width="1.1"/>
<line x1="455.30" y1="802.50" x2="455.30" y2="797.50" stroke="#222" stroke-width="1" />
<line x1="455.30" y1="597.00" x2="455.30" y2="602.00" stroke="#222" stroke-width="1" />
<line x1="511.10" y1="802.50" x2="511.10" y2="797.50" stroke="#222" stroke-width="1" />
<line x1="511.10" y1="597.00" x2="511.10" y2="602.00" stroke="#222" stroke-width="1" />
<line x1="565.50" y1="802.50" x2="565.50" y2="797.50" stroke="#222" stroke-width="1" />
<line x1="565.50" y1="597.00" x2="565.50" y2="602.00" stroke="#222" stroke-width="1" />
<line x1="620.90" y1="802.50" x2="620.90" y2="797.50" stroke="#222" stroke-width="1" />
<line x1="620.90" y1="597.00" x2="620.90" y2="602.00" stroke="#222" stroke-width="1" />
<line x1="396.60" y1="699.75" x2="401.60" y2="699.75" stroke="#222" stroke-width="1" />
<line x1="673.30" y1="699.75" x2="668.30" y2="699.75" stroke="#222" stroke-width="1" />
<rect x="396.20" y="648.40" width="37.20" height="154.10" fill="#302e66" stroke="#1e1e30" stroke-width="0.9"/>
<rect x="433.40" y="634.20" width="36.50" height="168.30" fill="#302e66" stroke="#1e1e30" stroke-width="0.9"/>
<rect x="469.90" y="689.30" width="36.50" height="113.20" fill="#302e66" stroke="#1e1e30" stroke-width="0.9"/>
<rect x="506.40" y="782.20" width="36.60" height="20.30" fill="#302e66" stroke="#1e1e30" stroke-width="0.9"/>
<rect x="543.00" y="792.00" width="37.40" height="10.50" fill="#302e66" stroke="#1e1e30" stroke-width="0.9"/>
<rect x="580.40" y="782.20" width="36.50" height="20.30" fill="#302e66" stroke="#1e1e30" stroke-width="0.9"/>
<polyline points="396.60,718.50 424.00,635.50 451.50,635.50 505.80,746.30 533.80,778.90 561.50,795.50 591.70,800.50 617.00,802.50 673.30,802.50" fill="none" stroke="#e33a25" stroke-width="1.8" stroke-linejoin="round" stroke-linecap="round" stroke-linecap="butt"/>
<text x="395.60" y="820.70" font-size="15.2" text-anchor="middle" font-weight="normal" >0</text>
<text x="455.70" y="820.70" font-size="15.2" text-anchor="middle" font-weight="normal" >2</text>
<text x="510.50" y="820.70" font-size="15.2" text-anchor="middle" font-weight="normal" >4</text>
<text x="566.10" y="820.70" font-size="15.2" text-anchor="middle" font-weight="normal" >6</text>
<text x="622.70" y="820.70" font-size="15.2" text-anchor="middle" font-weight="normal" >8</text>
<text x="671.60" y="820.70" font-size="15.2" text-anchor="middle" font-weight="normal" >10</text>
<text x="390.50" y="601.85" font-size="15.2" text-anchor="end" font-weight="normal" >20</text>
<text x="390.50" y="705.75" font-size="15.2" text-anchor="end" font-weight="normal" >10</text>
<text x="390.50" y="808.45" font-size="15.2" text-anchor="end" font-weight="normal" >0</text>
<text x="534.75" y="843.30" font-size="15.2" text-anchor="middle" font-weight="normal" >Number of trap site</text>
<text x="0.00" y="0.00" font-size="15.2" text-anchor="middle" font-weight="normal" transform="translate(362.8,700.8) rotate(-90)">Occurrence</text>
<rect x="504.7" y="607.9" width="163.7" height="41.2" fill="#fff" stroke="#222" stroke-width="1.1"/>
<rect x="511.3" y="616.3" width="29.2" height="6.8" fill="#354d99"/>
<line x1="509.50" y1="639.40" x2="542.80" y2="639.40" stroke="#e33a25" stroke-width="1.2" />
<text x="546.90" y="624.20" font-size="15.2" text-anchor="start" font-weight="normal" >Traps per CPN</text>
<text x="546.90" y="644.10" font-size="15.2" text-anchor="start" font-weight="normal" >Fit curve</text>
<rect x="129.57" y="245.26" width="8.28" height="11.86" fill="#fff"/>
<path transform="translate(129.65,256.20) scale(0.00742,-0.00742)" d="M763 0H583V1147Q518 1085 412.5 1023T223 930V1104Q375 1175 489 1276T650 1472H763Z" fill="#000"/>
<rect x="58.00" y="14.06" width="8.28" height="11.86" fill="#fff"/>
<path transform="translate(58.08,25.00) scale(0.00742,-0.00742)" d="M763 0H583V1147Q518 1085 412.5 1023T223 930V1104Q375 1175 489 1276T650 1472H763Z" fill="#000"/>
<rect x="81.70" y="55.86" width="8.28" height="11.86" fill="#fff"/>
<path transform="translate(81.77,66.80) scale(0.00742,-0.00742)" d="M763 0H583V1147Q518 1085 412.5 1023T223 930V1104Q375 1175 489 1276T650 1472H763Z" fill="#000"/>
<rect x="26.57" y="331.16" width="8.28" height="11.86" fill="#fff"/>
<path transform="translate(26.65,342.10) scale(0.00742,-0.00742)" d="M763 0H583V1147Q518 1085 412.5 1023T223 930V1104Q375 1175 489 1276T650 1472H763Z" fill="#000"/>
<rect x="286.90" y="323.76" width="8.28" height="11.86" fill="#fff"/>
<path transform="translate(286.97,334.70) scale(0.00742,-0.00742)" d="M763 0H583V1147Q518 1085 412.5 1023T223 930V1104Q375 1175 489 1276T650 1472H763Z" fill="#000"/>
<rect x="381.37" y="331.26" width="8.28" height="11.86" fill="#fff"/>
<path transform="translate(381.45,342.20) scale(0.00742,-0.00742)" d="M763 0H583V1147Q518 1085 412.5 1023T223 930V1104Q375 1175 489 1276T650 1472H763Z" fill="#000"/>
<rect x="599.91" y="328.66" width="8.28" height="11.86" fill="#fff"/>
<path transform="translate(599.99,339.60) scale(0.00742,-0.00742)" d="M763 0H583V1147Q518 1085 412.5 1023T223 930V1104Q375 1175 489 1276T650 1472H763Z" fill="#000"/>
<rect x="25.77" y="614.96" width="8.28" height="11.86" fill="#fff"/>
<path transform="translate(25.85,625.90) scale(0.00742,-0.00742)" d="M763 0H583V1147Q518 1085 412.5 1023T223 930V1104Q375 1175 489 1276T650 1472H763Z" fill="#000"/>
<rect x="663.07" y="809.76" width="8.28" height="11.86" fill="#fff"/>
<path transform="translate(663.15,820.70) scale(0.00742,-0.00742)" d="M763 0H583V1147Q518 1085 412.5 1023T223 930V1104Q375 1175 489 1276T650 1472H763Z" fill="#000"/>
<rect x="373.52" y="694.81" width="8.28" height="11.86" fill="#fff"/>
<path transform="translate(373.59,705.75) scale(0.00742,-0.00742)" d="M763 0H583V1147Q518 1085 412.5 1023T223 930V1104Q375 1175 489 1276T650 1472H763Z" fill="#000"/>
</svg></body></html>
